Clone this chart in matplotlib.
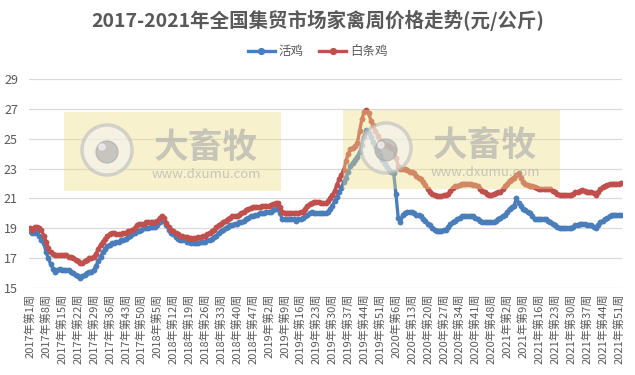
import matplotlib
matplotlib.use('Agg')
import matplotlib.pyplot as plt
from matplotlib.patches import Rectangle, Circle
from matplotlib.lines import Line2D

plt.rcParams['font.family'] = ['Noto Sans CJK SC', 'DejaVu Sans']

# weekly data, 2017 wk1 .. 2021 wk52
years = [2017, 2018, 2019, 2020, 2021]
weeks_in_year = [52, 52, 52, 53, 52]

huoji = [
    # 2017
    18.8, 18.7, 18.7, 18.8, 18.5, 18.2, 18.0, 17.4, 17.0, 16.6,
    16.3, 16.1, 16.2, 16.3, 16.2, 16.2, 16.2, 16.2, 16.1, 16.0,
    15.9, 15.8, 15.7, 15.8, 15.9, 16.0, 16.1, 16.1, 16.2, 16.5,
    16.8, 17.1, 17.4, 17.6, 17.8, 17.9, 18.0, 18.0, 18.1, 18.1,
    18.2, 18.2, 18.3, 18.4, 18.5, 18.6, 18.7, 18.8, 18.8, 18.9,
    19.0, 19.0,
    # 2018
    19.0, 19.1, 19.1, 19.1, 19.2, 19.4, 19.7, 19.5, 19.2, 18.9,
    18.7, 18.6, 18.4, 18.3, 18.2, 18.2, 18.2, 18.1, 18.1, 18.0,
    18.0, 18.0, 18.0, 18.1, 18.1, 18.1, 18.2, 18.2, 18.3, 18.4,
    18.5, 18.7, 18.8, 18.9, 19.0, 19.1, 19.2, 19.2, 19.3, 19.3,
    19.4, 19.4, 19.5, 19.6, 19.7, 19.8, 19.8, 19.9, 19.9, 20.0,
    20.0, 20.0,
    # 2019
    20.1, 20.1, 20.1, 20.2, 20.3, 20.5, 20.0, 19.6, 19.6, 19.6,
    19.6, 19.6, 19.6, 19.5, 19.6, 19.6, 19.7, 19.8, 19.9, 20.0,
    20.1, 20.0, 20.0, 20.0, 20.0, 20.0, 20.0, 20.1, 20.3, 20.5,
    20.8, 21.1, 21.4, 21.7, 22.1, 22.4, 22.8, 23.2, 23.4, 23.6,
    23.8, 24.1, 24.6, 25.1, 25.6, 25.4, 25.1, 24.8, 24.5, 24.2,
    23.9, 23.6,
    # 2020
    23.3, 23.1, 22.9, 22.8, 22.7, 21.3, 19.7, 19.4, 19.9, 20.0,
    20.1, 20.1, 20.1, 20.0, 19.9, 19.9, 19.8, 19.6, 19.5, 19.3,
    19.2, 19.0, 18.9, 18.85, 18.85, 18.85, 18.9, 18.9, 19.1, 19.3,
    19.4, 19.5, 19.6, 19.7, 19.8, 19.8, 19.8, 19.8, 19.8, 19.8,
    19.7, 19.6, 19.5, 19.4, 19.4, 19.4, 19.4, 19.4, 19.4, 19.5,
    19.6, 19.7, 19.8,
    # 2021
    19.9, 20.1, 20.3, 20.4, 20.5, 21.0, 20.7, 20.5, 20.3, 20.2,
    20.1, 20.0, 19.8, 19.6, 19.6, 19.6, 19.6, 19.6, 19.6, 19.5,
    19.4, 19.3, 19.25, 19.1, 19.0, 19.0, 19.0, 19.0, 19.0, 19.0,
    19.1, 19.2, 19.2, 19.3, 19.3, 19.3, 19.2, 19.2, 19.25, 19.1,
    19.0, 19.2, 19.4, 19.5, 19.6, 19.7, 19.8, 19.9, 19.9, 19.9,
    19.9, 19.9,
]

baitiaoji = [
    # 2017
    19.0, 18.9, 19.1, 19.1, 19.0, 18.9, 18.5, 18.1, 17.7, 17.4,
    17.3, 17.2, 17.2, 17.2, 17.2, 17.2, 17.2, 17.1, 17.1, 17.0,
    16.9, 16.8, 16.7, 16.7, 16.8, 16.9, 17.0, 17.0, 17.1, 17.3,
    17.6, 17.9, 18.1, 18.3, 18.45, 18.6, 18.7, 18.7, 18.6, 18.6,
    18.6, 18.7, 18.7, 18.8, 18.8, 18.9, 19.0, 19.2, 19.3, 19.3,
    19.3, 19.4,
    # 2018
    19.4, 19.4, 19.4, 19.4, 19.5, 19.7, 19.85, 19.7, 19.35, 19.1,
    18.9, 18.8, 18.7, 18.6, 18.5, 18.45, 18.4, 18.4, 18.35, 18.35,
    18.35, 18.35, 18.4, 18.4, 18.45, 18.5, 18.6, 18.7, 18.8, 18.9,
    19.1, 19.2, 19.3, 19.45, 19.5, 19.6, 19.7, 19.8, 19.8, 19.8,
    19.9, 20.0, 20.1, 20.2, 20.3, 20.35, 20.4, 20.4, 20.45, 20.45,
    20.5, 20.5,
    # 2019
    20.5, 20.5, 20.55, 20.6, 20.7, 20.7, 20.4, 20.1, 20.0, 20.0,
    20.0, 20.0, 20.0, 20.0, 20.0, 20.1, 20.1, 20.3, 20.5, 20.6,
    20.7, 20.75, 20.75, 20.75, 20.7, 20.7, 20.7, 20.8, 21.0, 21.2,
    21.5, 21.9, 22.3, 22.6, 22.9, 23.5, 24.0, 24.3, 24.4, 24.5,
    24.7, 25.5, 26.3, 26.8, 26.9, 26.7, 26.2, 25.9, 25.5, 25.2,
    24.9, 24.8,
    # 2020
    24.6, 24.55, 24.5, 24.4, 24.3, 23.7, 23.2, 23.0, 23.0, 22.95,
    22.9, 22.8, 22.75, 22.7, 22.5, 22.4, 22.3, 22.1, 21.9, 21.6,
    21.4, 21.3, 21.2, 21.15, 21.15, 21.15, 21.2, 21.25, 21.3, 21.5,
    21.7, 21.8, 21.85, 21.9, 22.0, 22.0, 22.0, 22.0, 21.95, 21.9,
    21.9, 21.8, 21.6, 21.5, 21.4, 21.3, 21.25, 21.25, 21.3, 21.35,
    21.4, 21.45, 21.6,
    # 2021
    21.8, 22.0, 22.2, 22.3, 22.4, 22.6, 22.7, 22.4, 22.1, 22.0,
    21.9, 21.8, 21.8, 21.75, 21.7, 21.65, 21.6, 21.6, 21.6, 21.6,
    21.6, 21.5, 21.4, 21.3, 21.2, 21.2, 21.2, 21.2, 21.2, 21.2,
    21.3, 21.4, 21.45, 21.5, 21.55, 21.5, 21.45, 21.45, 21.45, 21.35,
    21.25, 21.4, 21.6, 21.75, 21.85, 21.9, 21.95, 22.0, 22.0, 22.0,
    22.0, 22.05,
]

labels = []
for yr, nw in zip(years, weeks_in_year):
    for w in range(1, nw + 1):
        labels.append('%d年第%d周' % (yr, w))

n = len(huoji)
x = list(range(n))
gray = '#595959'
blue = '#4A7EBB'
red = '#C0504D'

fig = plt.figure(figsize=(6.35, 3.75), dpi=100)
ax = fig.add_axes([29 / 635, 1 - 288 / 375, 593 / 635, 209 / 375])

ax.plot(x, huoji, color=blue, lw=2.4, marker='o', ms=4.2, mew=0, label='活鸡', zorder=3)
ax.plot(x, baitiaoji, color=red, lw=2.4, marker='o', ms=4.2, mew=0, label='白条鸡', zorder=4)

ax.set_xlim(-0.5, n - 0.5)
ax.set_ylim(15, 29)
ax.set_yticks(range(15, 30, 2))
ax.set_xticks(x[::7])
ax.set_xticklabels(labels[:n:7], rotation=90, fontsize=8, color=gray)
ax.tick_params(axis='y', labelsize=9, labelcolor=gray, length=0, pad=8)
ax.tick_params(axis='x', length=0, pad=4)
ax.grid(axis='y', color='#D9D9D9', lw=0.9)
ax.set_axisbelow(True)
for s in ax.spines.values():
    s.set_visible(False)

fig.text(0.5, 1 - 20 / 375, '2017-2021年全国集贸市场家禽周价格走势(元/公斤)',
         ha='center', va='center', fontsize=14, fontweight='bold', color=gray)

handles = [Line2D([], [], color=blue, lw=2.4, marker='o', ms=4.2),
           Line2D([], [], color=red, lw=2.4, marker='o', ms=4.2)]
fig.legend(handles, ['活鸡', '白条鸡'], loc='center', bbox_to_anchor=(0.5, 1 - 52 / 375),
           ncol=2, frameon=False, fontsize=9, labelcolor=gray, handlelength=2.2,
           columnspacing=1.2, handletextpad=0.3)

# watermark overlay (pixel coordinates)
wm = fig.add_axes([0, 0, 1, 1], zorder=10)
wm.set_xlim(0, 635)
wm.set_ylim(375, 0)
wm.axis('off')
for bx, by in [(64, 112), (343, 110)]:
    wm.add_patch(Rectangle((bx, by), 217, 79, color='#EDDD85', alpha=0.4, lw=0))
    wm.add_patch(Circle((bx + 43, by + 38), 25, facecolor='#F4F4F4', edgecolor='#BBBBBB',
                        lw=2.5, alpha=0.6))
    wm.add_patch(Circle((bx + 43, by + 40), 11, color='#A8A8A8', alpha=0.6))
    wm.add_patch(Circle((bx + 38, by + 35), 3, color='#F4F4F4', alpha=0.7))
    wm.text(bx + 142, by + 35, '大畜牧', ha='center', va='center', fontsize=25,
            fontweight='bold', color='#A8A8A8', alpha=0.6)
    wm.text(bx + 142, by + 62, 'www.dxumu.com', ha='center', va='center', fontsize=9.5,
            color='#A8A8A8', alpha=0.6)

fig.savefig('out.png', dpi=100)
